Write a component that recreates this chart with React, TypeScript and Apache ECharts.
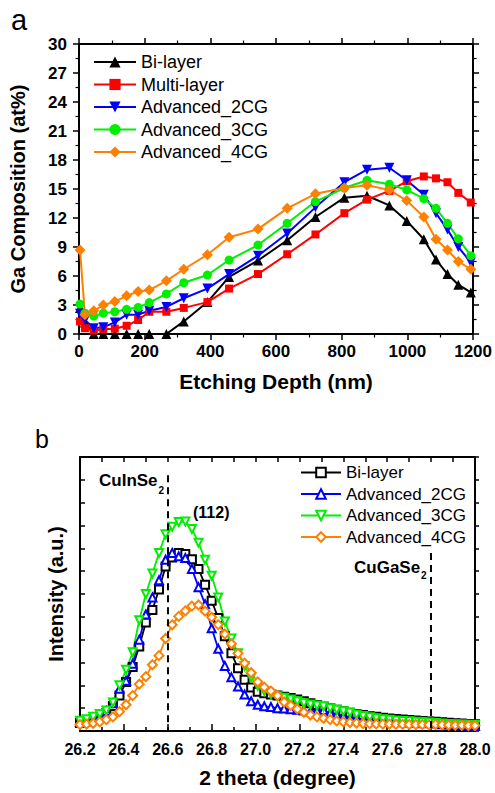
import React, { useEffect, useRef } from "react";
import * as echarts from "echarts";

// ---------- Panel a: Ga composition depth profile ----------
const depth = [3, 18, 45, 74, 109, 145, 180, 214, 266, 319, 391, 457, 545, 634, 720, 808, 877, 945, 998, 1050, 1087, 1122, 1155, 1193];
const biLayer = [2.7, 1.2, 0, 0, 0, 0, 0, 0, 0, 1.3, 3.3, 5.9, 7.6, 9.7, 12.1, 14.1, 14.3, 13.3, 11.7, 9.8, 7.7, 6.2, 5.1, 4.3];
const multiLayer = [1.3, 0.6, 0.35, 0.5, 0.55, 0.85, 1.45, 2.3, 2.3, 2.7, 3.3, 4.7, 6.2, 8.25, 10.3, 12.5, 13.9, 14.8, 15.8, 16.3, 16.1, 15.7, 14.6, 13.6];
const adv2CG = [2.1, 1.45, 0.6, 0.7, 1.2, 2.0, 2.0, 2.4, 2.8, 3.7, 4.7, 6.2, 8.1, 10.4, 13.1, 15.7, 17.0, 17.2, 15.9, 14.4, 12.5, 10.8, 9.0, 7.4];
const adv3CG = [3.1, 2.15, 1.85, 2.15, 2.3, 2.55, 2.75, 3.25, 4.15, 5.3, 6.1, 7.65, 9.2, 11.45, 13.7, 15.1, 15.9, 15.5, 14.9, 14.0, 13.0, 11.45, 9.85, 8.1];
const adv4CG = [8.7, 2.0, 2.4, 3.0, 3.35, 3.95, 4.4, 4.55, 5.5, 6.7, 8.2, 10.0, 10.85, 13.0, 14.5, 15.1, 15.4, 14.9, 13.8, 12.1, 9.8, 8.7, 7.5, 6.7];

// ---------- Panel b: XRD (112) peak ----------
const theta = [
  26.2, 26.23, 26.26, 26.29, 26.32, 26.35, 26.38, 26.41, 26.44, 26.47,
  26.5, 26.53, 26.56, 26.59, 26.62, 26.65, 26.68, 26.71, 26.74, 26.77,
  26.8, 26.83, 26.86, 26.89, 26.92, 26.95, 26.98, 27.01, 27.04, 27.07,
  27.1, 27.13, 27.16, 27.19, 27.22, 27.25, 27.28, 27.31, 27.34, 27.37,
  27.4, 27.43, 27.46, 27.49, 27.52, 27.55, 27.58, 27.61, 27.64, 27.67,
  27.7, 27.73, 27.76, 27.79, 27.82, 27.85, 27.88, 27.91, 27.94, 27.97,
  28.0,
];
const xrdBi = [
  0.35, 0.42, 0.5, 0.62, 0.78, 1.1, 1.55, 2.15, 2.8, 3.7,
  4.75, 5.3, 6.2, 7.2, 7.6, 7.8, 7.75, 7.52, 7.1, 6.4,
  5.7, 4.95, 4.15, 3.4, 2.75, 2.25, 1.9, 1.72, 1.65, 1.6,
  1.55, 1.5, 1.45, 1.38, 1.3, 1.22, 1.14, 1.06, 1.0, 0.93,
  0.86, 0.8, 0.74, 0.7, 0.65, 0.62, 0.58, 0.55, 0.53, 0.5,
  0.48, 0.46, 0.44, 0.42, 0.4, 0.38, 0.36, 0.34, 0.33, 0.31,
  0.3,
];
const xrd2CG = [
  0.4, 0.45, 0.52, 0.65, 0.88, 1.22, 1.85, 2.2, 2.95, 4.0,
  5.1, 5.85, 6.6, 7.5, 7.8, 7.65, 7.58, 7.1, 6.3, 5.55,
  4.5, 3.6, 2.85, 2.35, 1.95, 1.6, 1.3, 1.15, 1.08, 1.05,
  1.0, 0.98, 0.95, 0.93, 0.9, 0.85, 0.9, 0.92, 0.8, 0.72,
  0.66, 0.6, 0.55, 0.52, 0.48, 0.45, 0.43, 0.42, 0.4, 0.38,
  0.37, 0.36, 0.34, 0.36, 0.33, 0.3, 0.28, 0.26, 0.25, 0.23,
  0.22,
];
const xrd3CG = [
  0.45, 0.52, 0.62, 0.75, 0.9, 1.25, 2.0, 2.68, 3.45, 4.85,
  6.0, 6.9, 7.8, 8.62, 8.95, 9.15, 9.17, 8.85, 8.25, 7.5,
  6.8, 5.85, 4.8, 4.05, 3.4, 2.85, 2.35, 1.98, 1.75, 1.62,
  1.52, 1.46, 1.38, 1.3, 1.22, 1.16, 1.12, 1.08, 1.0, 0.93,
  0.87, 0.8, 0.72, 0.66, 0.6, 0.56, 0.52, 0.49, 0.46, 0.44,
  0.43, 0.41, 0.39, 0.37, 0.35, 0.33, 0.31, 0.3, 0.28, 0.27,
  0.26,
];
const xrd4CG = [
  0.28, 0.3, 0.34, 0.4, 0.5, 0.62, 0.85, 1.15, 1.55, 2.05,
  2.38, 2.9, 3.3, 4.05, 4.65, 5.02, 5.26, 5.47, 5.52, 5.25,
  4.98, 4.66, 4.25, 3.82, 3.4, 2.97, 2.55, 2.15, 1.92, 1.75,
  1.55, 1.27, 1.12, 0.97, 0.82, 0.7, 0.62, 0.56, 0.5, 0.44,
  0.4, 0.37, 0.35, 0.33, 0.32, 0.31, 0.3, 0.3, 0.29, 0.29,
  0.28, 0.28, 0.28, 0.27, 0.29, 0.27, 0.26, 0.25, 0.25, 0.24,
  0.24,
];
const refLines = [
  { x: 26.6, top: 11.2 },
  { x: 27.8, top: 7.8 },
];

const FONT = "'Liberation Sans', Arial, Helvetica, sans-serif";
const BLACK = "#000";
const GREEN = "#00ee00";
const ORANGE = "#ff8000";

const pairs = (xs: number[], ys: number[]) => xs.map((x, i) => [x, ys[i]]);

const axisLine = { show: true, onZero: false, lineStyle: { color: BLACK, width: 2 } };

function topOption(): any {
  const tick = { show: true, inside: false, length: 6, lineStyle: { color: BLACK, width: 1.5 } };
  const minor = { show: true, splitNumber: 2, length: 3.5, lineStyle: { color: BLACK, width: 1.2 } };
  const label = { color: BLACK, fontWeight: "bold", fontSize: 17, fontFamily: FONT };
  const nameStyle = { color: BLACK, fontWeight: "bold", fontSize: 20, fontFamily: FONT };
  const mk = (name: string, ys: number[], color: string, symbol: string, size: number, rotate = 0) => ({
    name,
    type: "line",
    data: pairs(depth, ys),
    symbol,
    symbolSize: size,
    symbolRotate: rotate,
    lineStyle: { color, width: 2 },
    itemStyle: { color },
  });
  return {
    animation: false,
    textStyle: { fontFamily: FONT },
    graphic: [
      { type: "text", x: 11, y: 19.5, style: { text: "a", font: `29px ${FONT}`, fill: BLACK, verticalAlign: "middle" } },
    ],
    grid: { left: 79, top: 44, width: 395, height: 290, containLabel: false },
    legend: {
      orient: "vertical",
      left: 88,
      top: 48,
      itemWidth: 42,
      itemHeight: 14,
      itemGap: 4.5,
      textStyle: { fontSize: 18, color: BLACK, fontFamily: FONT },
      data: ["Bi-layer", "Multi-layer", "Advanced_2CG", "Advanced_3CG", "Advanced_4CG"],
    },
    xAxis: [
      {
        type: "value", min: 0, max: 1200, interval: 200, position: "bottom",
        axisLine, axisTick: tick, minorTick: minor,
        splitLine: { show: false }, minorSplitLine: { show: false },
        axisLabel: { ...label, margin: 9, formatter: (v: number) => String(v) },
        name: "Etching Depth (nm)", nameLocation: "middle", nameGap: 37, nameTextStyle: { ...nameStyle, fontSize: 21 },
      },
      {
        type: "value", min: 0, max: 1200, interval: 200, position: "top",
        axisLine, axisTick: tick, minorTick: minor,
        splitLine: { show: false }, axisLabel: { show: false },
      },
    ],
    yAxis: [
      {
        type: "value", min: 0, max: 30, interval: 3, position: "left",
        axisLine, axisTick: tick, minorTick: minor,
        splitLine: { show: false }, minorSplitLine: { show: false },
        axisLabel: { ...label, margin: 12 },
        name: "Ga Composition (at%)", nameLocation: "middle", nameGap: 51, nameTextStyle: nameStyle,
      },
      {
        type: "value", min: 0, max: 30, interval: 3, position: "right",
        axisLine, axisTick: tick, minorTick: minor,
        splitLine: { show: false }, axisLabel: { show: false },
      },
    ],
    series: [
      mk("Bi-layer", biLayer, BLACK, "triangle", 10),
      mk("Multi-layer", multiLayer, "#ff0000", "rect", 8),
      mk("Advanced_2CG", adv2CG, "#0000ff", "triangle", 10, 180),
      mk("Advanced_3CG", adv3CG, GREEN, "circle", 9),
      mk("Advanced_4CG", adv4CG, ORANGE, "diamond", 11),
    ],
  };
}

function bottomOption(): any {
  const tick = (inside: boolean, len = 6) => ({ show: true, inside, length: len, lineStyle: { color: BLACK, width: 1.5 } });
  const label = { color: BLACK, fontWeight: "bold", fontSize: 16, fontFamily: FONT };
  const nameStyle = { color: BLACK, fontWeight: "bold", fontSize: 20, fontFamily: FONT };
  const mk = (name: string, ys: number[], color: string, symbol: string, rotate = 0, extra: any = {}) => ({
    name,
    type: "line",
    data: pairs(theta, ys),
    symbol,
    symbolSize: 8,
    symbolRotate: rotate,
    lineStyle: { color, width: 1.8 },
    itemStyle: { color, borderWidth: 1.1 },
    ...extra,
  });
  const t = (text: string, x: number, y: number, size: number, bold = true) => ({
    type: "text", x, y,
    style: { text, font: `${bold ? "bold " : ""}${size}px ${FONT}`, fill: BLACK, verticalAlign: "middle" },
  });
  return {
    animation: false,
    textStyle: { fontFamily: FONT },
    graphic: [
      t("b", 35, 28.5, 25, false),
      t("CuInSe", 99, 70.5, 17),
      t("2", 158.5, 80.5, 10),
      t("(112)", 193, 102, 16),
      t("CuGaSe", 354, 157, 17),
      t("2", 421, 165.5, 10),
    ],
    grid: { left: 80, top: 47, width: 395, height: 278, containLabel: false },
    legend: {
      orient: "vertical",
      left: 295,
      top: 49,
      itemWidth: 40,
      itemHeight: 12,
      itemGap: 4.5,
      textStyle: { fontSize: 17, color: BLACK, fontFamily: FONT },
      data: ["Bi-layer", "Advanced_2CG", "Advanced_3CG", "Advanced_4CG"],
    },
    xAxis: [
      {
        type: "value", min: 26.2, max: 28.0, interval: 0.2, position: "bottom",
        axisLine, axisTick: tick(true, 7),
        minorTick: { show: true, splitNumber: 2, length: 4, lineStyle: { color: BLACK, width: 1.5 } },
        splitLine: { show: false }, minorSplitLine: { show: false },
        axisLabel: { ...label, margin: 10, formatter: (v: number) => v.toFixed(1) },
        name: "2 theta (degree)", nameLocation: "middle", nameGap: 36, nameTextStyle: { ...nameStyle, fontSize: 21 },
      },
      {
        type: "value", min: 26.2, max: 28.0, interval: 0.2, position: "top",
        axisLine, axisTick: tick(true, 5),
        minorTick: { show: true, splitNumber: 2, length: 5, lineStyle: { color: BLACK, width: 1.5 } },
        splitLine: { show: false }, axisLabel: { show: false },
      },
    ],
    yAxis: [
      {
        type: "value", min: 0, max: 12, interval: 1, position: "left",
        axisLine, axisTick: tick(true, 5),
        splitLine: { show: false }, axisLabel: { show: false },
        name: "Intensity (a.u.)", nameLocation: "middle", nameGap: 14, nameTextStyle: nameStyle,
      },
      {
        type: "value", min: 0, max: 12, interval: 1, position: "right",
        axisLine, axisTick: tick(false, 4),
        splitLine: { show: false }, axisLabel: { show: false },
      },
    ],
    series: [
      mk("Bi-layer", xrdBi, BLACK, "emptyRect", 0, {
        markLine: {
          silent: true,
          symbol: ["none", "none"],
          label: { show: false },
          lineStyle: { color: BLACK, width: 2, type: [7, 5] },
          data: refLines.map((r) => [{ coord: [r.x, r.top] }, { coord: [r.x, 0] }]),
        },
      }),
      mk("Advanced_2CG", xrd2CG, "#0000ff", "emptyTriangle"),
      mk("Advanced_3CG", xrd3CG, GREEN, "emptyTriangle", 180),
      mk("Advanced_4CG", xrd4CG, ORANGE, "emptyDiamond", 0, { symbolSize: 9 }),
    ],
  };
}

export default function App() {
  const refA = useRef<HTMLDivElement>(null);
  const refB = useRef<HTMLDivElement>(null);
  useEffect(() => {
    const a = echarts.init(refA.current!, null, { renderer: "svg" });
    const b = echarts.init(refB.current!, null, { renderer: "svg" });
    a.setOption(topOption());
    b.setOption(bottomOption());
    return () => {
      a.dispose();
      b.dispose();
    };
  }, []);
  return (
    <div style={{ position: "fixed", left: 0, top: 0, width: 495, height: 793, background: "#fff" }}>
      <div ref={refA} style={{ position: "absolute", left: 0, top: 0, width: 495, height: 410 }} />
      <div ref={refB} style={{ position: "absolute", left: 0, top: 410, width: 495, height: 383 }} />
    </div>
  );
}
